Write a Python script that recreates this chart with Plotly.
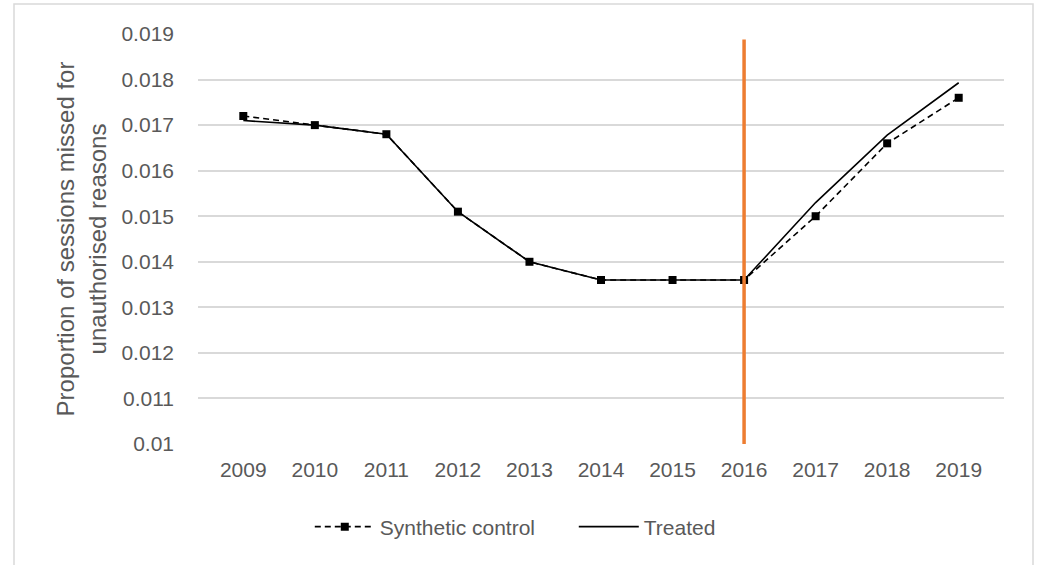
import plotly.graph_objects as go

years = ["2009", "2010", "2011", "2012", "2013", "2014", "2015", "2016", "2017", "2018", "2019"]
synthetic = [0.0172, 0.0170, 0.0168, 0.0151, 0.0140, 0.0136, 0.0136, 0.0136, 0.0150, 0.0166, 0.0176]
treated = [0.0171, 0.0170, 0.0168, 0.0151, 0.0140, 0.0136, 0.0136, 0.0136, 0.0153, 0.01678, 0.01793]
intervention_year = "2016"
intervention_span = [0.0100, 0.01888]
y_ticks = [0.01, 0.011, 0.012, 0.013, 0.014, 0.015, 0.016, 0.017, 0.018, 0.019]
y_tick_labels = ["0.01", "0.011", "0.012", "0.013", "0.014", "0.015", "0.016", "0.017", "0.018", "0.019"]

FONT = "Liberation Sans"
GREY = "#595959"

fig = go.Figure()
fig.add_trace(go.Scatter(
    x=years, y=synthetic, mode="lines+markers", name="Synthetic control",
    line=dict(color="black", width=1.6, dash="6px,4px"),
    marker=dict(symbol="square", size=8, color="black")))
fig.add_trace(go.Scatter(
    x=years, y=treated, mode="lines", name="Treated",
    line=dict(color="black", width=1.6)))
fig.add_trace(go.Scatter(
    x=[intervention_year, intervention_year], y=intervention_span, mode="lines",
    line=dict(color="#ED7D31", width=3.5), showlegend=False, hoverinfo="skip"))

fig.update_layout(
    width=1040, height=565,
    margin=dict(l=198, r=36, t=34, b=121, autoexpand=False),
    paper_bgcolor="white", plot_bgcolor="white",
    font=dict(family=FONT, size=21, color=GREY),
    showlegend=True,
    legend=dict(orientation="h", x=0.1387, xanchor="left", y=-0.2025, yanchor="middle",
                font=dict(family=FONT, size=21, color=GREY), itemwidth=60,
                entrywidth=189, entrywidthmode="pixels",
                bgcolor="rgba(0,0,0,0)", traceorder="normal"),
    xaxis=dict(type="category", categoryorder="array", categoryarray=years,
               showgrid=False, showline=False, zeroline=False, automargin=False,
               ticks="", tickfont=dict(family=FONT, size=21, color=GREY),
               ticklabelstandoff=11, fixedrange=True),
    yaxis=dict(range=[0.01, 0.019], tickvals=y_ticks, ticktext=y_tick_labels,
               showgrid=True, gridcolor="#D9D9D9", gridwidth=1.5, zeroline=False,
               showline=False, ticks="", tickfont=dict(family=FONT, size=21, color=GREY),
               ticklabelstandoff=23, automargin=False,
               title=dict(text="Proportion of sessions missed for<br>unauthorised reasons",
                          font=dict(family=FONT, size=24, color=GREY), standoff=8)),
    shapes=[dict(type="rect", xref="paper", yref="paper",
                 x0=(14 - 198) / 806, x1=(1033 - 198) / 806,
                 y0=-0.5, y1=(444 - 4) / 410,
                 line=dict(color="#D9D9D9", width=1.5), fillcolor="rgba(0,0,0,0)", layer="below")],
    annotations=[dict(text=")", xref="paper", yref="paper", x=(37 - 198) / 806,
                      y=(444 + 14) / 410, xanchor="center", yanchor="middle", showarrow=False,
                      font=dict(family=FONT, size=24, color="black"))],
)

fig.write_html("out.html", config={"displayModeBar": False},
               post_script="document.body.style.margin='0';")
